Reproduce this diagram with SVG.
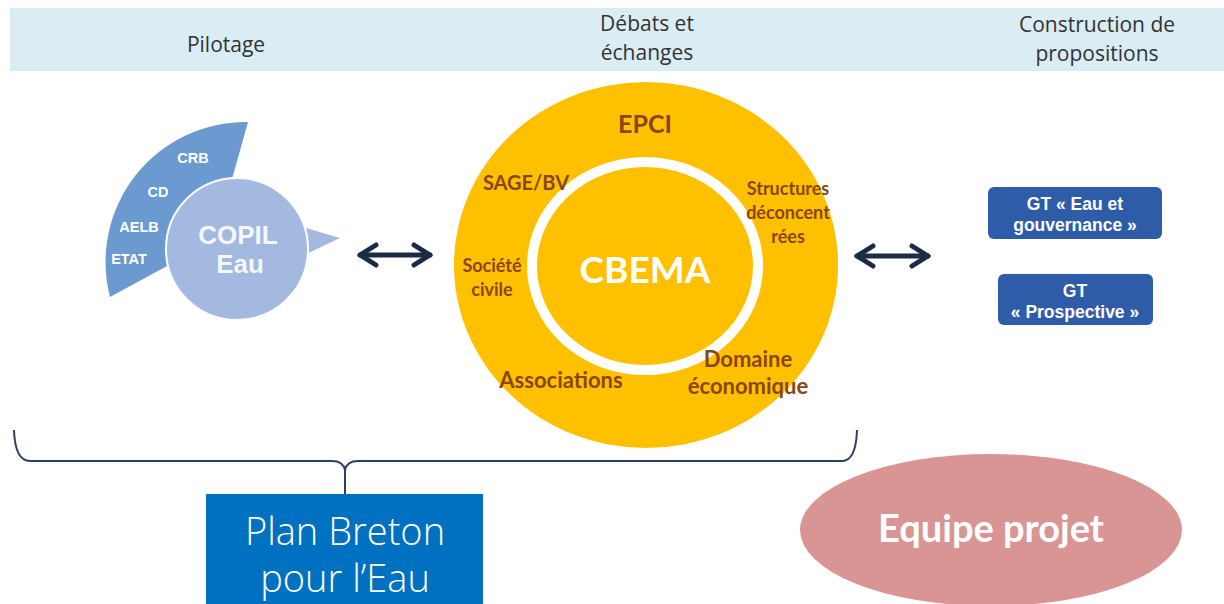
<svg xmlns="http://www.w3.org/2000/svg" width="1224" height="604" viewBox="0 0 1224 604">
<defs>
<style>
.hdr{font-family:"Open Sans","Noto Sans",sans-serif;font-size:21px;fill:#333;text-anchor:middle}
.cb{font-family:Lato,"Open Sans",sans-serif;font-weight:bold;fill:#8A4510;text-anchor:middle}
.ar{font-family:"Liberation Sans",Arial,sans-serif;font-weight:bold;text-anchor:middle}
.wl{font-family:"Liberation Sans",Arial,sans-serif;font-weight:bold;text-anchor:middle;font-size:14.5px;fill:#fff}
.gt{fill:#2E5CA8}
.conn{fill:none;stroke:#1C2B45;stroke-width:5;stroke-linecap:round}
.brace{fill:none;stroke:#2F3F5F;stroke-width:2}
</style>
<marker id="head" markerUnits="userSpaceOnUse" viewBox="0 0 22 26" markerWidth="22" markerHeight="26" refX="19" refY="13" orient="auto-start-reverse">
<path d="M3,3 L19,13 L3,23" fill="none" stroke="#1C2B45" stroke-width="5" stroke-linecap="round" stroke-linejoin="round"/>
</marker>
</defs>
<rect width="1224" height="604" fill="#fff"/>
<g id="header">
<rect x="10" y="8" width="1214" height="63" fill="#DAECF4"/>
<text class="hdr" x="226" y="52">Pilotage</text>
<text class="hdr" x="647" y="31">Débats et</text>
<text class="hdr" x="647" y="60">échanges</text>
<text class="hdr" x="1097" y="32">Construction de</text>
<text class="hdr" x="1097" y="61">propositions</text>
</g>
<g id="copil">
<path d="M248,122 A140,140 0 0 0 110,297 L215,240 Z" fill="#6B9AD0"/>
<text class="wl" x="193" y="163">CRB</text>
<text class="wl" x="158" y="197">CD</text>
<text class="wl" x="139" y="232">AELB</text>
<text class="wl" x="129" y="264">ETAT</text>
<path d="M306,228 L340,238 L302,256 Z" fill="#A4B9E0"/>
<circle cx="237" cy="249" r="71" fill="#A4B9E0" stroke="#fff" stroke-width="2"/>
<text class="ar" x="238" y="244" font-size="26" fill="#F4F7FC">COPIL</text>
<text class="ar" x="240" y="273" font-size="26" fill="#F4F7FC">Eau</text>
</g>
<g id="cbema">
<ellipse cx="646" cy="265" rx="192" ry="183" fill="#FFC000"/>
<ellipse cx="645" cy="266" rx="113" ry="104" fill="#FFC000" stroke="#fff" stroke-width="10"/>
<text class="cb" x="645" y="283" font-size="37" style="fill:#fff">CBEMA</text>
<text class="cb" x="645" y="133" font-size="25">EPCI</text>
<text class="cb" x="526" y="190" font-size="20">SAGE/BV</text>
<text class="cb" x="788" y="195" font-size="18">Structures</text>
<text class="cb" x="788" y="219" font-size="18">déconcent</text>
<text class="cb" x="788" y="243" font-size="18">rées</text>
<text class="cb" x="492" y="272" font-size="18">Société</text>
<text class="cb" x="492" y="296" font-size="18">civile</text>
<text class="cb" x="561" y="388" font-size="22">Associations</text>
<text class="cb" x="748" y="367" font-size="22">Domaine</text>
<text class="cb" x="748" y="394" font-size="22">économique</text>
</g>
<g id="gt-eau">
<rect class="gt" x="988" y="187" width="174" height="52" rx="6"/>
<text class="ar" x="1075" y="210" font-size="17.5" fill="#fff">GT « Eau et</text>
<text class="ar" x="1075" y="231" font-size="17.5" fill="#fff">gouvernance »</text>
</g>
<g id="gt-prospective">
<rect class="gt" x="998" y="274" width="155" height="51" rx="6"/>
<text class="ar" x="1075" y="297" font-size="17.5" fill="#fff">GT</text>
<text class="ar" x="1075" y="318" font-size="17.5" fill="#fff">« Prospective »</text>
</g>
<g id="plan-breton">
<rect x="206" y="494" width="277" height="115" fill="#0070C0"/>
<text x="345" y="545" font-family="'Open Sans','Noto Sans',sans-serif" font-weight="300" font-size="38" fill="#fff" text-anchor="middle">Plan Breton</text>
<text x="345" y="592" font-family="'Open Sans','Noto Sans',sans-serif" font-weight="300" font-size="38" fill="#fff" text-anchor="middle">pour l’Eau</text>
</g>
<g id="equipe-projet">
<ellipse cx="991" cy="530" rx="191" ry="76" fill="#D99594"/>
<text class="cb" x="991" y="542" font-size="38" style="fill:#fff">Equipe projet</text>
</g>
<g id="connectors">
<path class="conn" d="M360,255 L430,255" marker-start="url(#head)" marker-end="url(#head)"/>
<path class="conn" d="M857,256 L928,256" marker-start="url(#head)" marker-end="url(#head)"/>
<path class="brace" d="M14,430 Q15,461 30,461 L332,461 Q343,461 345,470 Q347,461 358,461 L842,461 Q856,461 857,430 M345,470 L345,494"/>
</g>
</svg>
